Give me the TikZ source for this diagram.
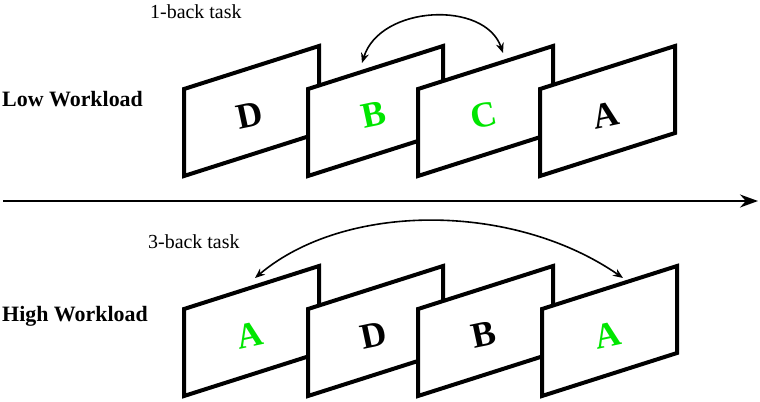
\documentclass[tikz,border=0pt]{standalone}
\usepackage{fontspec}
\setmainfont{Liberation Serif}
\usetikzlibrary{arrows.meta}
\definecolor{hit}{RGB}{0,230,0}
\tikzset{
  panel/.style={draw=black, fill=white, line width=4bp, line join=miter},
  letter/.style={font=\fontsize{36}{36}\selectfont\bfseries, rotate=12, inner sep=0},
  tasklabel/.style={font=\fontsize{20}{24}\selectfont, inner sep=0, anchor=base west},
  rowlabel/.style={font=\fontsize{22}{24}\selectfont\bfseries, inner sep=0, anchor=base west},
  link/.style={line width=1.6bp, {Stealth[length=10bp,width=8bp]}-{Stealth[length=10bp,width=8bp]}},
  timeline/.style={line width=2bp, -{Stealth[length=18bp,width=13bp]}}
}
\newcommand\drawpanel[5]{% name, left x, top y, letter, colour
  \draw[panel] (#2,-#3) -- ++(135,43) -- ++(0,-87) -- ++(-135,-43) -- cycle;
  \node[letter, text=#5] (#1) at (#2+66,-#3-26) {#4};}
\begin{document}
\begin{tikzpicture}[x=1bp,y=1bp]
\useasboundingbox (0,0) rectangle (760,-401);
% labels
\node[tasklabel] (task1) at (150,-18) {1-back task};
\node[rowlabel] (low) at (2,-106) {Low Workload};
\node[tasklabel] (task3) at (148,-248) {3-back task};
\node[rowlabel] (high) at (2,-321) {High Workload};
% low workload row
\drawpanel{p1}{184}{89}{D}{black}
\drawpanel{p2}{308}{89}{B}{hit}
\drawpanel{p3}{418}{89}{C}{hit}
\drawpanel{p4}{540}{89}{A}{black}
% high workload row
\drawpanel{q1}{184}{309}{A}{hit}
\drawpanel{q2}{308}{309}{D}{black}
\drawpanel{q3}{418}{309}{B}{black}
\drawpanel{q4}{542}{309}{A}{hit}
% connectors
\coordinate (l1) at (362,-63);
\coordinate (l2) at (503,-53);
\draw[link] (l1) .. controls (380,-5) and (485,0) .. (l2);
\coordinate (h1) at (255,-278);
\coordinate (h2) at (623,-278);
\draw[link] (h1) .. controls (345,-202) and (513,-202) .. (h2);
% time axis
\coordinate (t0) at (3,-201);
\coordinate (t1) at (758,-201);
\draw[timeline] (t0) -- (t1);
\end{tikzpicture}
\end{document}
